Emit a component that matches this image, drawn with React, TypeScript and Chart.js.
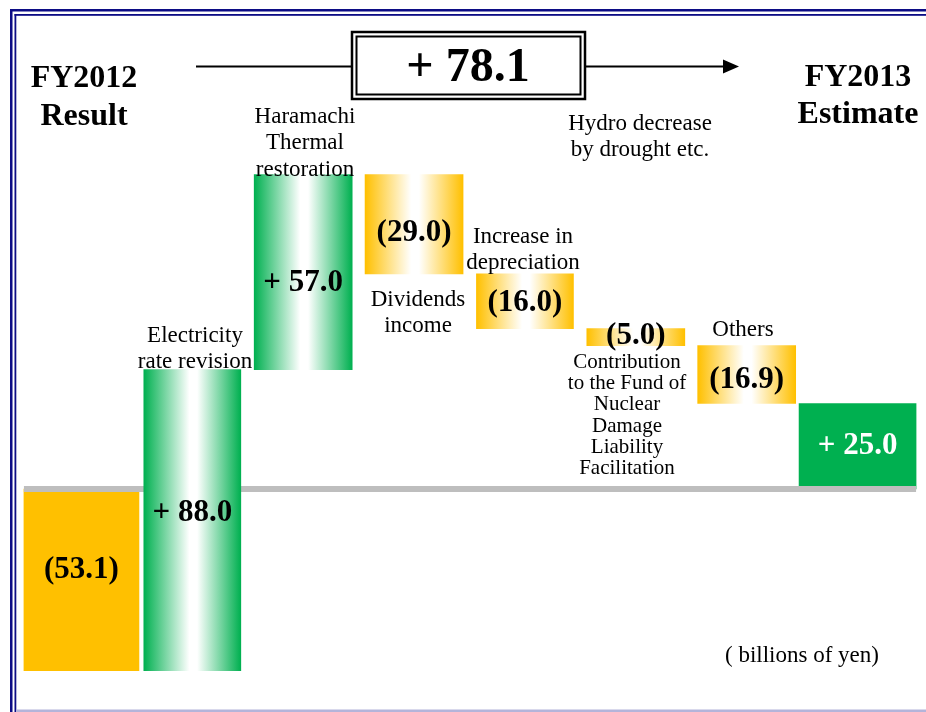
import React, { useEffect, useRef } from 'react';
import { Chart, registerables } from 'chart.js';

Chart.register(...registerables);

// ---- data ----
const categories = [
  'FY2012 Result',
  'Electricity rate revision',
  'Haramachi Thermal restoration',
  'Dividends income',
  'Increase in depreciation',
  'Contribution to the Fund of Nuclear Damage Liability Facilitation',
  'Others',
  'FY2013 Estimate',
];
const changes = [-53.1, 88.0, 57.0, -29.0, -16.0, -5.0, -16.9, 25.0];
const valueLabels = ['(53.1)', '+ 88.0', '+ 57.0', '(29.0)', '(16.0)', '(5.0)', '(16.9)', '+ 25.0'];
const barKinds = ['solid-orange', 'grad-green', 'grad-green', 'grad-orange', 'grad-orange', 'grad-orange', 'grad-orange', 'solid-green'];
const totalChangeLabel = '+ 78.1';
const startLabel = ['FY2012', 'Result'];
const endLabel = ['FY2013', 'Estimate'];
const unitLabel = '( billions of yen)';

// ---- styles ----
const barWidths = [115, 97, 98, 98, 97, 98, 98, 117];
const ORANGE = '#FFC000';
const GREEN = '#00B050';
const SERIF = '"Liberation Serif", "Times New Roman", serif';
const TEXT_DY = 2.5;

function buildRanges(): [number, number][] {
  const ranges: [number, number][] = [];
  let run = 0;
  changes.forEach((c, i) => {
    if (i === 0) {
      ranges.push([0, c]);
      run = c;
    } else if (i === changes.length - 1) {
      ranges.push([0, c]);
    } else {
      ranges.push([run, +(run + c).toFixed(1)]);
      run = +(run + c).toFixed(1);
    }
  });
  return ranges;
}

function barFill(kind: string, idx: number) {
  return (context: any) => {
    const chart = context.chart;
    if (kind === 'solid-orange') return ORANGE;
    if (kind === 'solid-green') return GREEN;
    const col = kind === 'grad-green' ? GREEN : ORANGE;
    const xs = chart.scales && chart.scales.x;
    if (!xs) return col;
    const cx = xs.getPixelForValue(idx);
    if (!Number.isFinite(cx)) return col;
    const w = barWidths[idx];
    const g = chart.ctx.createLinearGradient(cx - w / 2, 0, cx + w / 2, 0);
    g.addColorStop(0, col);
    g.addColorStop(0.47, '#FFFFFF');
    g.addColorStop(0.55, '#FFFFFF');
    g.addColorStop(1, col);
    return g;
  };
}

type Note = { lines: string[]; x: number; y: number; lh: number; size: number; bold?: boolean };

const notes: Note[] = [
  { lines: ['Haramachi', 'Thermal', 'restoration'], x: 305, y: 114, lh: 26.5, size: 23 },
  { lines: ['Electricity', 'rate revision'], x: 195, y: 333, lh: 26, size: 23 },
  { lines: ['Dividends', 'income'], x: 418, y: 297, lh: 26, size: 23 },
  { lines: ['Increase in', 'depreciation'], x: 523, y: 234, lh: 26, size: 23 },
  { lines: ['Hydro decrease', 'by drought etc.'], x: 640, y: 121, lh: 26, size: 23 },
  { lines: ['Contribution', 'to the Fund of', 'Nuclear', 'Damage', 'Liability', 'Facilitation'], x: 627, y: 360, lh: 21.2, size: 21 },
  { lines: ['Others'], x: 743, y: 327, lh: 26, size: 23 },
  { lines: [unitLabel], x: 802, y: 653, lh: 26, size: 23 },
];

const valueLabelY = [567, 510, 280, 230, 300, 333, 377, 443];

function drawLines(ctx: CanvasRenderingContext2D, lines: string[], x: number, y: number, lh: number, font: string, color = '#000') {
  ctx.font = font;
  ctx.fillStyle = color;
  ctx.textAlign = 'center';
  ctx.textBaseline = 'middle';
  lines.forEach((l, i) => ctx.fillText(l, x, y + i * lh + TEXT_DY));
}

const annotationPlugin = {
  id: 'waterfallAnnotations',
  beforeDraw(chart: any) {
    const ctx: CanvasRenderingContext2D = chart.ctx;
    ctx.save();
    ctx.fillStyle = '#FFFFFF';
    ctx.fillRect(0, 0, chart.width, chart.height);
    // frame
    ctx.fillStyle = '#0C0C85';
    ctx.fillRect(10, 9, 2.5, chart.height - 9);
    ctx.fillRect(10, 9, chart.width - 10, 2.5);
    ctx.fillRect(14.5, 14, 1.8, chart.height - 14);
    ctx.fillRect(14.5, 14, chart.width - 14.5, 1.8);
    ctx.fillStyle = '#B4B4DA';
    ctx.fillRect(16, 709.5, chart.width - 16, 2.5);
    ctx.restore();
  },
  beforeDatasetDraw(chart: any, args: any) {
    if (args.index !== 1) return;
    const ctx: CanvasRenderingContext2D = chart.ctx;
    const y0 = chart.scales.y.getPixelForValue(0);
    const first = chart.getDatasetMeta(0).data[0];
    const n = categories.length - 1;
    const last = chart.getDatasetMeta(n).data[n];
    const x0 = first.x - first.width / 2;
    const x1 = last.x + last.width / 2;
    ctx.save();
    ctx.fillStyle = '#BEBEBE';
    ctx.fillRect(x0, y0 - 3, x1 - x0, 6);
    ctx.restore();
  },
  afterDatasetsDraw(chart: any) {
    const ctx: CanvasRenderingContext2D = chart.ctx;
    ctx.save();
    // values inside bars
    valueLabels.forEach((lab, i) => {
      const el = chart.getDatasetMeta(i).data[i];
      drawLines(ctx, [lab], el.x, valueLabelY[i], 0, `bold 31px ${SERIF}`, barKinds[i] === 'solid-green' ? '#FFFFFF' : '#000000');
    });
    // start / end titles
    drawLines(ctx, startLabel, 84, 76, 38, `bold 32px ${SERIF}`);
    drawLines(ctx, endLabel, 858, 75, 37, `bold 32px ${SERIF}`);
    // total change box
    ctx.strokeStyle = '#000';
    ctx.lineWidth = 2.5;
    ctx.strokeRect(352, 32, 233, 67);
    ctx.lineWidth = 2;
    ctx.strokeRect(356.5, 36.5, 224, 58);
    drawLines(ctx, [totalChangeLabel], 468, 66, 0, `bold 48px ${SERIF}`);
    // arrow lines
    ctx.lineWidth = 2;
    ctx.beginPath();
    ctx.moveTo(196, 66.5);
    ctx.lineTo(351, 66.5);
    ctx.moveTo(586, 66.5);
    ctx.lineTo(726, 66.5);
    ctx.stroke();
    ctx.fillStyle = '#000';
    ctx.beginPath();
    ctx.moveTo(739, 66.5);
    ctx.lineTo(723, 59.5);
    ctx.lineTo(723, 73.5);
    ctx.closePath();
    ctx.fill();
    // annotation texts
    notes.forEach((n) => {
      drawLines(ctx, n.lines, n.x, n.y, n.lh, `${n.bold ? 'bold ' : ''}${n.size}px ${SERIF}`);
    });
    ctx.restore();
  },
};

export default function App() {
  const canvasRef = useRef<HTMLCanvasElement | null>(null);

  useEffect(() => {
    if (!canvasRef.current) return;
    const ranges = buildRanges();
    const datasets = categories.map((cat, i) => ({
      label: cat,
      data: categories.map((_, j) => (j === i ? ranges[i] : null)),
      backgroundColor: barFill(barKinds[i], i),
      borderWidth: 0,
      barThickness: barWidths[i],
      grouped: false,
      clip: false,
      order: i === 1 ? -1 : 0,
    }));
    const chart = new Chart(canvasRef.current, {
      type: 'bar',
      data: { labels: categories, datasets: datasets as any },
      options: {
        responsive: false,
        animation: false,
        devicePixelRatio: 1,
        layout: { padding: { left: 26, right: 13, top: 27.3, bottom: 34.9 } },
        plugins: { legend: { display: false }, tooltip: { enabled: false } },
        scales: {
          x: { display: false, type: 'category', offset: true, grid: { display: false } },
          y: { display: false, min: -55, max: 135, grid: { display: false } },
        },
      },
      plugins: [annotationPlugin],
    });
    return () => chart.destroy();
  }, []);

  return (
    <div style={{ position: 'absolute', left: 0, top: 0, width: 926, height: 712, background: '#fff' }}>
      <canvas ref={canvasRef} width={926} height={712} style={{ display: 'block' }} />
    </div>
  );
}
